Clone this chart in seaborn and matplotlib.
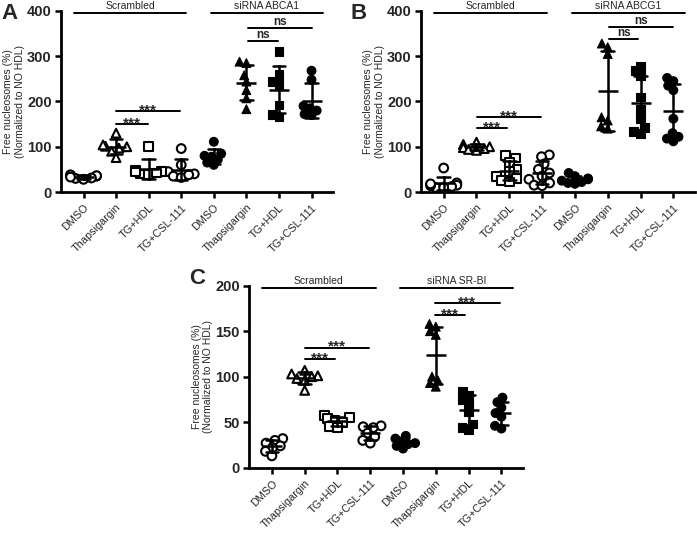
import numpy as np
import pandas as pd
import matplotlib
matplotlib.use("Agg")
import matplotlib.pyplot as plt
import seaborn as sns

sns.set_theme(style="ticks")
plt.rcParams["font.family"] = ["Liberation Sans", "DejaVu Sans"]

conditions = ["DMSO", "Thapsigargin", "TG+HDL", "TG+CSL-111"]
markers = ["o", "^", "s", "o"]

# Panel A
a_groups = ["Scrambled", "siRNA ABCA1"]
a_scr_dmso = [35, 38, 30, 33, 28, 36, 31]
a_scr_tg = [130, 100, 97, 101, 104, 90, 76]
a_scr_hdl = [100, 45, 40, 38, 48, 42, 44]
a_scr_csl = [96, 60, 45, 40, 35, 32, 38]
a_si_dmso = [111, 85, 80, 78, 72, 65, 60]
a_si_tg = [288, 285, 258, 244, 225, 207, 183]
a_si_hdl = [310, 260, 245, 238, 192, 172, 166]
a_si_csl = [268, 248, 190, 185, 180, 172, 170]

# Panel B
b_groups = ["Scrambled", "siRNA ABCG1"]
b_scr_dmso = [53, 20, 15, 12, 10, 14, 18, 10]
b_scr_tg = [110, 105, 100, 98, 96, 94, 92]
b_scr_hdl = [80, 75, 65, 50, 45, 35, 30, 25, 22]
b_scr_csl = [82, 78, 62, 50, 42, 35, 28, 20, 15, 14]
b_si_dmso = [42, 35, 30, 28, 25, 22, 20, 18]
b_si_tg = [328, 320, 305, 165, 158, 145, 140]
b_si_hdl = [278, 268, 258, 210, 182, 162, 142, 133, 130]
b_si_csl = [252, 245, 235, 225, 162, 130, 122, 118, 112]

# Panel C
c_groups = ["Scrambled", "siRNA SR-BI"]
c_scr_dmso = [32, 30, 27, 24, 22, 18, 13]
c_scr_tg = [107, 103, 101, 100, 98, 96, 85]
c_scr_hdl = [57, 55, 54, 52, 50, 45, 44]
c_scr_csl = [46, 45, 44, 38, 34, 30, 27]
c_si_dmso = [35, 32, 29, 27, 26, 24, 21]
c_si_tg = [158, 155, 150, 146, 100, 96, 93, 89]
c_si_hdl = [84, 80, 75, 72, 62, 48, 44, 42]
c_si_csl = [77, 72, 66, 60, 56, 46, 43]

SWARM_SIZE = 4.0   # size used to lay out the swarm (compact, GraphPad-like)
SHOW_SIZE = 6.3    # size the markers are finally drawn with


def draw_panel(ax, groups, scr, si, ymax, yticks, sig, sig_text, letter, letter_xy, fig):
    rows = []
    order = []
    for gi, lists in enumerate([scr, si]):
        for ci, vals in enumerate(lists):
            key = f"{groups[gi]}|{conditions[ci]}"
            order.append(key)
            for v in vals:
                rows.append(dict(key=key, value=v, shape=markers[ci], filled=(gi == 1)))
    df = pd.DataFrame(rows)

    for (shape, filled), sub in df.groupby(["shape", "filled"]):
        sns.swarmplot(data=sub, x="key", y="value", order=order, marker=shape,
                      size=SWARM_SIZE, color="black" if filled else "white",
                      edgecolor="black", linewidth=0.8 if filled else 1.5,
                      ax=ax, zorder=3, warn_thresh=1.0)

    sns.pointplot(data=df, x="key", y="value", order=order, errorbar="sd",
                  capsize=0.38, linestyle="none", marker="_", markersize=15,
                  markeredgewidth=1.8, color="black",
                  err_kws={"linewidth": 1.8}, ax=ax, zorder=4)

    ax.set_xlim(-0.7, 7.66)
    ax.set_ylim(0, ymax)
    ax.set_yticks(yticks)
    ax.set_xticks(range(8))
    ax.set_xticklabels(conditions * 2, rotation=45, ha="right",
                       rotation_mode="anchor", fontsize=7.8)
    ax.set_xlabel("")
    ax.set_ylabel("Free nucleosomes (%)\n(Normalized to NO HDL)", fontsize=7.5,
                  labelpad=1.5)
    for lbl in ax.get_yticklabels():
        lbl.set_fontweight("bold")
        lbl.set_fontsize(10.5)
    ax.tick_params(axis="both", width=1.8, length=4.5, direction="out", pad=2,
                   color="black")
    ax.tick_params(axis="x", pad=3)
    sns.despine(ax=ax)
    for s in ["left", "bottom"]:
        ax.spines[s].set_linewidth(2)
        ax.spines[s].set_color("black")

    # group headers
    yline = ymax * 0.988
    for (x1, x2), name in zip([(-0.3, 3.16), (3.9, 7.36)], groups):
        ax.plot([x1, x2], [yline, yline], color="black", lw=1.4, clip_on=False)
        ax.annotate(name, xy=((x1 + x2) / 2, yline), xytext=(0, 1.5),
                    textcoords="offset points", ha="center", va="bottom",
                    fontsize=7.5, annotation_clip=False)

    # significance brackets
    for (x1, x2, y), t in zip(sig, sig_text):
        ax.plot([x1, x2], [y, y], color="black", lw=1.4, clip_on=False)
        if t == "ns":
            ax.annotate(t, xy=((x1 + x2) / 2, y), xytext=(0, 0),
                        textcoords="offset points", ha="center", va="bottom",
                        fontsize=8.5, fontweight="bold", annotation_clip=False)
        else:
            ax.annotate(t, xy=((x1 + x2) / 2, y), xytext=(0, -4.5),
                        textcoords="offset points", ha="center", va="bottom",
                        fontsize=11, fontweight="bold", annotation_clip=False)

    fig.text(letter_xy[0], letter_xy[1], letter, fontsize=16, fontweight="bold",
             ha="left", va="top")


fig = plt.figure(figsize=(6.97, 5.41), dpi=100)
axA = fig.add_axes([0.0871, 0.6451, 0.3907, 0.3346])
axB = fig.add_axes([0.6036, 0.6451, 0.3935, 0.3346])
axC = fig.add_axes([0.3572, 0.1355, 0.3932, 0.3364])

draw_panel(axA, a_groups,
           [a_scr_dmso, a_scr_tg, a_scr_hdl, a_scr_csl],
           [a_si_dmso, a_si_tg, a_si_hdl, a_si_csl],
           400, [0, 100, 200, 300, 400],
           [(1, 1.97, 150), (1, 2.97, 178), (5.05, 5.97, 334), (5.05, 7.0, 362)],
           ["***", "***", "ns", "ns"], "A", (0.002, 0.995), fig)
draw_panel(axB, b_groups,
           [b_scr_dmso, b_scr_tg, b_scr_hdl, b_scr_csl],
           [b_si_dmso, b_si_tg, b_si_hdl, b_si_csl],
           400, [0, 100, 200, 300, 400],
           [(1.03, 1.94, 141), (1.03, 2.98, 166), (5.05, 5.93, 337), (5.05, 7.0, 364)],
           ["***", "***", "ns", "ns"], "B", (0.503, 0.995), fig)
draw_panel(axC, c_groups,
           [c_scr_dmso, c_scr_tg, c_scr_hdl, c_scr_csl],
           [c_si_dmso, c_si_tg, c_si_hdl, c_si_csl],
           200, [0, 50, 100, 150, 200],
           [(1.0, 1.93, 119), (1.0, 2.97, 132), (4.97, 5.9, 168), (4.97, 6.95, 181)],
           ["***", "***", "***", "***"], "C", (0.271, 0.505), fig)

# Lay out the swarms compactly, then freeze the positions and enlarge the markers
fig.canvas.draw()
for ax in (axA, axB, axC):
    for coll in ax.collections:
        if "draw" in coll.__dict__:
            del coll.draw
            coll.set_sizes(np.full(len(coll.get_offsets()), SHOW_SIZE ** 2))

fig.savefig("out.png", dpi=100)
